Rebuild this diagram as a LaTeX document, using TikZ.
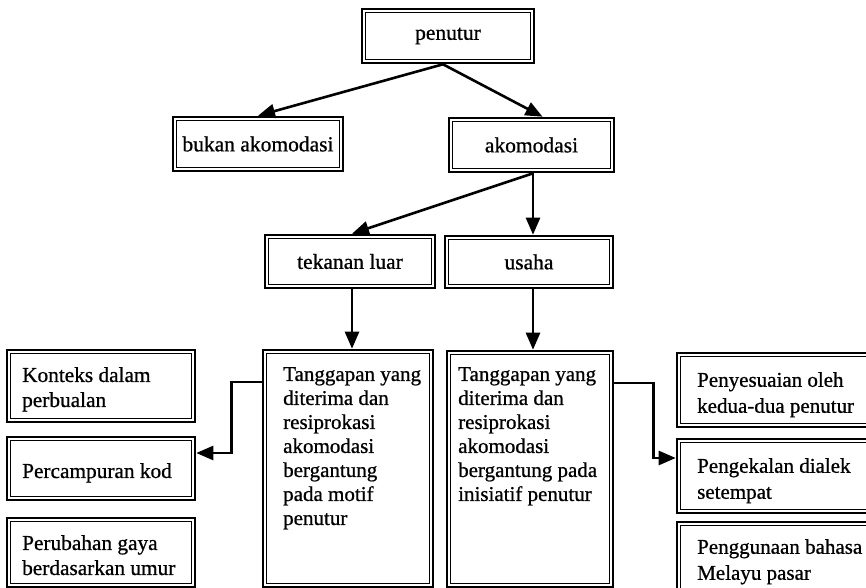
\documentclass[tikz,border=0pt]{standalone}
\usepackage{fontspec}
\setmainfont{Liberation Serif}[RawFeature={embolden=0.8}]
\usetikzlibrary{arrows.meta}
\begin{document}
\begin{tikzpicture}[x=1pt,y=-1pt,
  box/.style={draw, line width=2.6pt, inner sep=0pt,
    path picture={\draw[line width=0.9pt]
      ([shift={(3.8pt,3.8pt)}]path picture bounding box.south west) rectangle
      ([shift={(-3.8pt,-3.8pt)}]path picture bounding box.north east);}},
  conn/.style={line width=2.6pt},
  arr/.style={conn, -{Triangle[length=17pt,width=14pt]}},
  upf/.style={font=\fontsize{21.5}{24}\selectfont},
  txt/.style={anchor=north west, inner sep=0pt, align=left},
  midf/.style={font=\fontsize{21}{24}\selectfont},
  leftf/.style={font=\fontsize{21.3}{25}\selectfont},
  rightf/.style={font=\fontsize{21}{26}\selectfont}
]
\useasboundingbox (0,0) rectangle (866,588);

% top level
\node[box, upf, minimum width=172pt, minimum height=54pt] (pen) at (448,36) {penutur};
\node[box, upf, minimum width=170pt, minimum height=54pt] (bukan) at (258,144) {bukan akomodasi};
\node[box, upf, minimum width=165pt, minimum height=54pt] (ako) at (531.5,145) {akomodasi};
\node[box, upf, minimum width=170pt, minimum height=53pt] (tek) at (350,261.5) {tekanan luar};
\node[box, upf, minimum width=168pt, minimum height=52pt] (usa) at (529,262) {usaha};

% middle tall boxes
\node[box, minimum width=170pt, minimum height=237pt] (t1) at (348,468.5) {};
\node[txt, midf] (t1txt) at (283,367) {Tanggapan yang\\diterima dan\\resiprokasi\\akomodasi\\bergantung\\pada motif\\penutur};
\node[box, minimum width=166pt, minimum height=236pt] (t2) at (530,469) {};
\node[txt, midf] (t2txt) at (458,367) {Tanggapan yang\\diterima dan\\resiprokasi\\akomodasi\\bergantung pada\\inisiatif penutur};

% left boxes
\node[box, minimum width=188pt, minimum height=72pt] (kon) at (101,386) {};
\node[txt, leftf] (kontxt) at (22,367) {Konteks dalam\\perbualan};
\node[box, minimum width=188pt, minimum height=63pt] (perc) at (101,468.5) {};
\node[txt, leftf] (perctxt) at (22,463) {Percampuran kod};
\node[box, minimum width=188pt, minimum height=69pt] (peru) at (101,552.5) {};
\node[txt, leftf] (perutxt) at (22,535) {Perubahan gaya\\berdasarkan umur};

% right boxes
\node[box, minimum width=213pt, minimum height=74pt] (peny) at (783.5,390) {};
\node[txt, rightf] (penytxt) at (697,372) {Penyesuaian oleh\\kedua-dua penutur};
\node[box, minimum width=213pt, minimum height=74pt] (peng) at (783.5,476) {};
\node[txt, rightf] (pengtxt) at (697,458) {Pengekalan dialek\\setempat};
\node[box, minimum width=213pt, minimum height=70pt] (pgg) at (783.5,557) {};
\node[txt, rightf] (pggtxt) at (697,539) {Penggunaan bahasa\\Melayu pasar};

% connectors
\coordinate (pj) at ([xshift=-5pt]pen.south);
\draw[arr] (pj) -- (bukan.north);
\draw[arr] (pj) -- ([xshift=11pt]ako.north);
\coordinate (aj) at ([xshift=1.5pt]ako.south);
\draw[arr] (aj) -- ([xshift=2pt]tek.north);
\draw[arr] (aj) -- (aj |- usa.north);
\draw[arr] ([xshift=2pt]tek.south) -- ([xshift=2pt]tek.south |- t1.north);
\draw[arr] (aj |- usa.south) -- (aj |- t2.north);
\draw[arr] ([yshift=86.5pt]t1.west) -- ++(-30,0) |- ([yshift=15.5pt]perc.east);
\draw[arr] ([yshift=86pt]t2.east) -- ++(39,0) |- ([yshift=18pt]peng.west);
\end{tikzpicture}
\end{document}
